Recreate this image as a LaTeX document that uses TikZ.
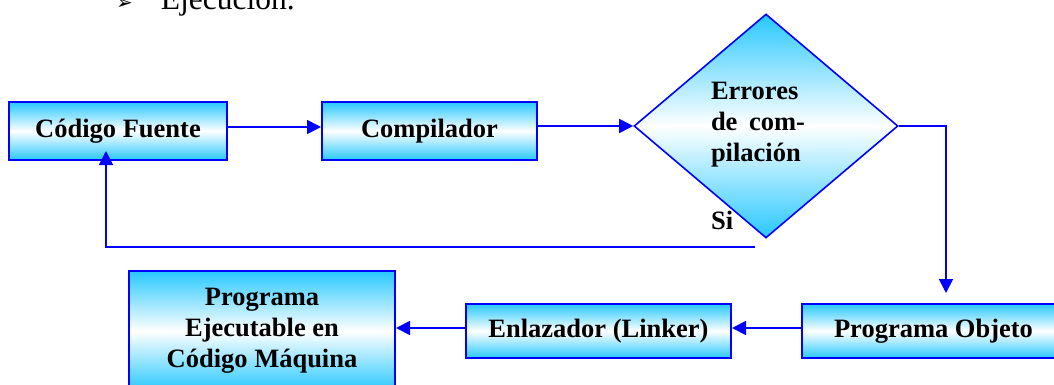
\documentclass[tikz,border=0pt]{standalone}
\usepackage{fontspec}
\setmainfont{Liberation Serif}
\newfontfamily\dejavu{DejaVu Sans}
\usetikzlibrary{shapes.geometric,arrows.meta}
\definecolor{cyanfill}{RGB}{40,200,255}
\definecolor{lineblue}{RGB}{0,0,255}
\tikzset{
  gbox/.style={draw=lineblue, line width=2pt, rectangle, inner sep=0pt,
    top color=cyanfill, bottom color=cyanfill, middle color=white,
    font=\fontsize{26.5}{31}\selectfont\bfseries, align=center},
  gdiam/.style={draw=lineblue, line width=1.6pt, diamond, inner sep=0pt,
    top color=cyanfill, bottom color=cyanfill, middle color=white},
  lbl/.style={font=\fontsize{26.5}{31}\selectfont\bfseries, inner sep=0pt},
  arr/.style={draw=lineblue, line width=1.8pt, -{Triangle[length=14pt,width=14pt]}},
  ln/.style={draw=lineblue, line width=1.8pt}
}
\begin{document}
\begin{tikzpicture}[x=1pt,y=-1pt]
\useasboundingbox (0,0) rectangle (1054,385);
% header text (cut off at the top)
\node[anchor=base west, inner sep=0pt, font=\fontsize{31.5}{36}\selectfont] (hdr) at (116,10) {{\dejavu\fontsize{20}{24}\selectfont ➢}\hspace{28pt}Ejecución.};
% boxes
\node[gbox, minimum width=218pt, minimum height=58pt] (cf) at (118,131) {Código Fuente};
\node[gbox, minimum width=215pt, minimum height=58pt] (comp) at (429.5,131) {Compilador};
\node[gdiam, minimum width=264pt, minimum height=224pt] (dec) at (766,126) {};
\node[lbl, align=left] (dect) at (758,125) {Errores\\\makebox[94pt][s]{de com-}\\pilación};
\node[lbl, anchor=base west] (si) at (711,229) {Si};
\node[gbox, minimum width=263pt, minimum height=54pt] (obj) at (933.5,331) {Programa Objeto};
\node[gbox, minimum width=265pt, minimum height=54pt] (enl) at (598.5,331) {Enlazador (Linker)};
\node[gbox, minimum width=266pt, minimum height=120pt] (exe) at (262,331) {Programa\\Ejecutable en\\Código Máquina};
% coordinates for free ends
\coordinate (c1) at (946,293);
\coordinate (s1) at (755,247);
\coordinate (c2) at (106,151);
% connectors
\draw[arr] ([yshift=4pt]cf.east) -- ([yshift=4pt]comp.west);
\draw[arr] ([yshift=5pt]comp.east) -- (dec.west);
\draw[arr] (dec.east) -| (c1);
\draw[arr] (s1) -| (c2);
\draw[arr] ([yshift=3pt]obj.west) -- ([yshift=3pt]enl.east);
\draw[arr] ([yshift=3pt]enl.west) -- ([yshift=3pt]exe.east);
\end{tikzpicture}
\end{document}
